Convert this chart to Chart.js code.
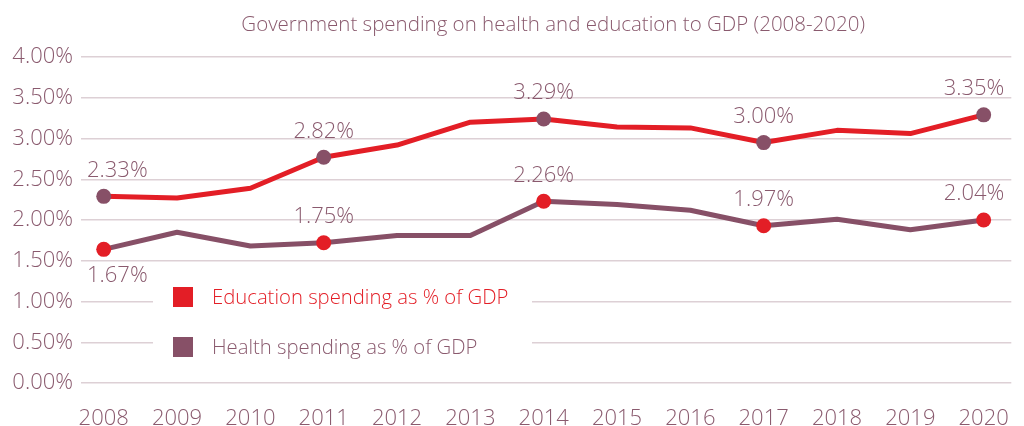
<!DOCTYPE html>
<html>
<head>
<meta charset="utf-8">
<script src="https://cdn.jsdelivr.net/npm/chart.js@4.4.1/dist/chart.umd.min.js"></script>
<style>
  html, body { margin: 0; padding: 0; background: #fff; }
  #wrap { width: 1024px; height: 426px; }
</style>
</head>
<body>
<div id="wrap"><canvas id="chart" width="1024" height="426"></canvas></div>
<script>
// data
const years = [2008, 2009, 2010, 2011, 2012, 2013, 2014, 2015, 2016, 2017, 2018, 2019, 2020];
const education = [2.29, 2.27, 2.39, 2.77, 2.92, 3.20, 3.24, 3.14, 3.13, 2.95, 3.10, 3.06, 3.29];
const health = [1.64, 1.85, 1.68, 1.72, 1.81, 1.81, 2.23, 2.19, 2.12, 1.93, 2.01, 1.88, 2.00];

// years that get a marker + printed value
const markedYears = [2008, 2011, 2014, 2017, 2020];
const educationLabels = ["2.33%", "2.82%", "3.29%", "3.00%", "3.35%"];
const healthLabels = ["1.67%", "1.75%", "2.26%", "1.97%", "2.04%"];
const healthLabelsBelow = [2008];

const yTicks = [0, 0.5, 1, 1.5, 2, 2.5, 3, 3.5, 4];
const titleText = "Government spending on health and education to GDP (2008-2020)";

const RED = "#e31e26";
const MAUVE = "#875067";
const TEXT = "#8a5a6e";
const GRID = "#ddd0d5";
const FONT = "'Open Sans', 'DejaVu Sans', sans-serif";

function points(values) {
    return years.map((yr, i) => ({ x: yr, y: values[i] }));
}

function isMarked(ctx) {
    return markedYears.includes(years[ctx.dataIndex]);
}

// title over the plot area
const plotTitle = {
    id: "plotTitle",
    afterDraw(chart) {
        const c = chart.ctx;
        const area = chart.chartArea;
        c.save();
        c.font = "300 20.5px " + FONT;
        c.fillStyle = TEXT;
        c.textAlign = "center";
        c.textBaseline = "middle";
        c.fillText(titleText, (area.left + area.right) / 2 + 7, 25);
        c.restore();
    }
};

// legend drawn inside the plot, on a white box over the gridlines
const boxLegend = {
    id: "boxLegend",
    beforeDatasetsDraw(chart) {
        const c = chart.ctx;
        c.save();
        c.fillStyle = "#fff";
        c.fillRect(153, 272, 379, 96);
        c.font = "300 20.3px " + FONT;
        c.textBaseline = "middle";
        chart.data.datasets.forEach((ds, i) => {
            const y = 297 + i * 50;
            c.fillStyle = ds.borderColor;
            c.fillRect(173, y - 10, 20, 20);
            c.fillStyle = i === 0 ? RED : TEXT;
            c.fillText(ds.label, 212, y + 1);
        });
        c.restore();
    }
};

// printed values next to the marked points
const valueLabels = {
    id: "valueLabels",
    afterDatasetsDraw(chart) {
        const c = chart.ctx;
        const area = chart.chartArea;
        const xs = chart.scales.x;
        c.save();
        c.font = "300 22px " + FONT;
        c.fillStyle = TEXT;
        c.textBaseline = "middle";
        c.textAlign = "left";
        const sets = [
            { values: education, labels: educationLabels, below: [] },
            { values: health, labels: healthLabels, below: healthLabelsBelow }
        ];
        sets.forEach(s => {
            markedYears.forEach((yr, k) => {
                const i = years.indexOf(yr);
                const px = xs.getPixelForValue(yr);
                const py = chart.scales.y.getPixelForValue(s.values[i]);
                const w = c.measureText(s.labels[k]).width;
                let left = px - w / 2;
                left = Math.max(left, area.left + 6);
                left = Math.min(left, area.right - 7 - w);
                const dy = s.below.includes(yr) ? 26 : -26;
                c.fillText(s.labels[k], left, py + dy);
            });
        });
        c.restore();
    }
};

new Chart(document.getElementById("chart"), {
    type: "line",
    data: {
        datasets: [
            {
                label: "Education spending as % of GDP",
                data: points(education),
                borderColor: RED,
                borderWidth: 5,
                borderJoinStyle: "round",
                tension: 0,
                pointRadius: ctx => (isMarked(ctx) ? 7.5 : 0),
                pointHoverRadius: ctx => (isMarked(ctx) ? 7.5 : 0),
                pointBackgroundColor: MAUVE,
                pointBorderWidth: 0
            },
            {
                label: "Health spending as % of GDP",
                data: points(health),
                borderColor: MAUVE,
                borderWidth: 5,
                borderJoinStyle: "round",
                tension: 0,
                pointRadius: ctx => (isMarked(ctx) ? 7.5 : 0),
                pointHoverRadius: ctx => (isMarked(ctx) ? 7.5 : 0),
                pointBackgroundColor: RED,
                pointBorderWidth: 0
            }
        ]
    },
    options: {
        responsive: false,
        animation: false,
        devicePixelRatio: 1,
        layout: { padding: { top: 57 } },
        plugins: {
            legend: { display: false },
            tooltip: { enabled: false },
            title: { display: false }
        },
        scales: {
            x: {
                type: "linear",
                min: 2007.69,
                max: 2020.377,
                grid: { display: false },
                border: { display: false },
                afterBuildTicks: s => { s.ticks = years.map(v => ({ value: v })); },
                afterFit: s => { s.height = 43; },
                ticks: {
                    color: TEXT,
                    font: { family: FONT, size: 22, weight: 300 },
                    padding: 15,
                    autoSkip: false,
                    maxRotation: 0,
                    callback: v => String(v)
                }
            },
            y: {
                min: 0,
                max: 4,
                afterBuildTicks: s => { s.ticks = yTicks.map(v => ({ value: v })); },
                afterFit: s => { s.width = 81; },
                grid: { color: GRID, lineWidth: 1.5, drawTicks: false },
                border: { display: false },
                ticks: {
                    color: TEXT,
                    font: { family: FONT, size: 22, weight: 300 },
                    padding: 8,
                    callback: v => v.toFixed(2) + "%"
                }
            }
        }
    },
    plugins: [plotTitle, boxLegend, valueLabels]
});
</script>
</body>
</html>
